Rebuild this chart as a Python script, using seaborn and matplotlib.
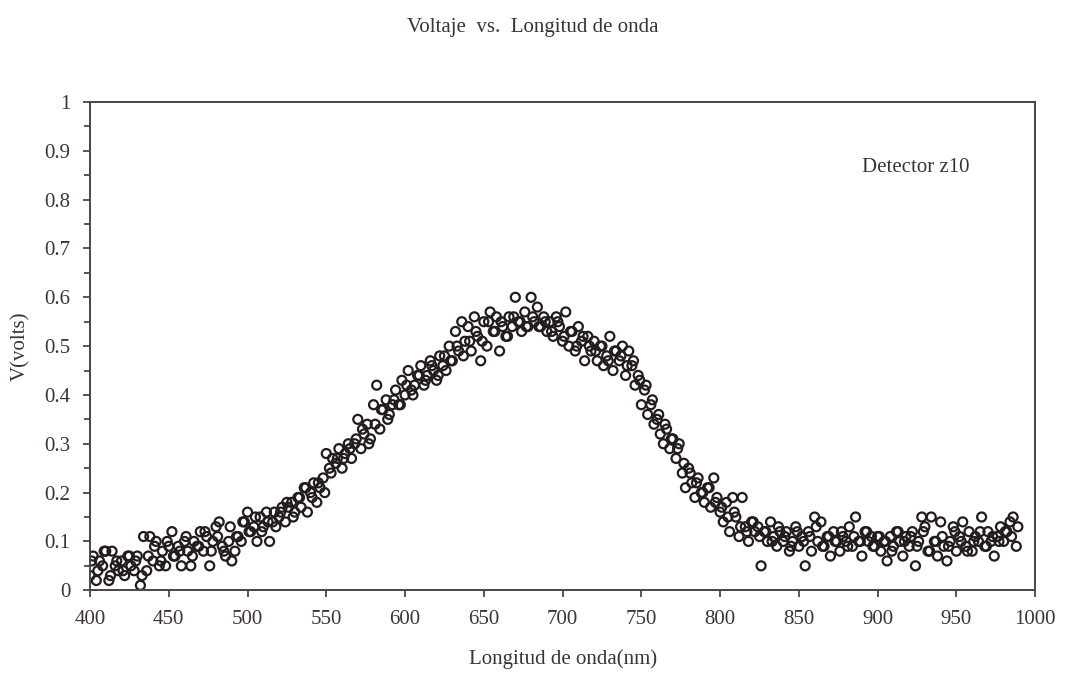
import numpy as np
import pandas as pd
import matplotlib
matplotlib.use("Agg")
import matplotlib.pyplot as plt
import seaborn as sns

# wavelength grid (nm) and measured voltage (V) read from the picture
# run A: every 2 nm starting at 400 nm
wl_start_a, wl_step_a = 400, 2
voltage_a = [
    0.03, 0.07, 0.02, 0.06, 0.05, 0.08, 0.02, 0.08, 0.05, 0.04,
    0.06, 0.03, 0.07, 0.05, 0.04, 0.07, 0.01, 0.11, 0.04, 0.11,
    0.06, 0.10, 0.05, 0.08, 0.05, 0.09, 0.12, 0.07, 0.09, 0.05,
    0.10, 0.08, 0.05, 0.10, 0.09, 0.12, 0.08, 0.11, 0.05, 0.10,
    0.13, 0.14, 0.09, 0.07, 0.10, 0.06, 0.08, 0.11, 0.10, 0.14,
    0.16, 0.12, 0.13, 0.10, 0.15, 0.13, 0.16, 0.10, 0.14, 0.13,
    0.15, 0.17, 0.14, 0.17, 0.18, 0.16, 0.19, 0.17, 0.21, 0.16,
    0.20, 0.22, 0.18, 0.21, 0.23, 0.28, 0.25, 0.27, 0.26, 0.29,
    0.25, 0.28, 0.30, 0.27, 0.30, 0.35, 0.29, 0.32, 0.34, 0.31,
    0.38, 0.42, 0.33, 0.37, 0.39, 0.36, 0.38, 0.41, 0.38, 0.43,
    0.40, 0.45, 0.41, 0.42, 0.44, 0.46, 0.42, 0.44, 0.47, 0.45,
    0.43, 0.48, 0.46, 0.45, 0.50, 0.47, 0.53, 0.49, 0.55, 0.51,
    0.54, 0.49, 0.56, 0.52, 0.47, 0.55, 0.50, 0.57, 0.53, 0.56,
    0.49, 0.54, 0.52, 0.56, 0.54, 0.60, 0.55, 0.53, 0.57, 0.54,
    0.60, 0.55, 0.58, 0.54, 0.56, 0.53, 0.55, 0.52, 0.56, 0.54,
    0.51, 0.57, 0.50, 0.53, 0.49, 0.54, 0.51, 0.47, 0.52, 0.49,
    0.51, 0.47, 0.50, 0.46, 0.48, 0.52, 0.45, 0.49, 0.47, 0.50,
    0.44, 0.49, 0.46, 0.42, 0.44, 0.38, 0.41, 0.36, 0.38, 0.34,
    0.35, 0.32, 0.30, 0.33, 0.29, 0.31, 0.27, 0.30, 0.24, 0.21,
    0.25, 0.22, 0.19, 0.23, 0.20, 0.18, 0.21, 0.17, 0.23, 0.19,
    0.16, 0.14, 0.18, 0.12, 0.19, 0.15, 0.11, 0.19, 0.13, 0.10,
    0.14, 0.12, 0.13, 0.05, 0.12, 0.10, 0.14, 0.11, 0.09, 0.12,
    0.10, 0.12, 0.08, 0.10, 0.13, 0.09, 0.11, 0.05, 0.12, 0.08,
    0.15, 0.10, 0.14, 0.09, 0.11, 0.07, 0.12, 0.10, 0.08, 0.11,
    0.10, 0.13, 0.09, 0.15, 0.10, 0.07, 0.12, 0.10, 0.11, 0.09,
    0.11, 0.08, 0.10, 0.06, 0.11, 0.09, 0.12, 0.10, 0.07, 0.11,
    0.09, 0.12, 0.05, 0.10, 0.15, 0.13, 0.08, 0.15, 0.10, 0.07,
    0.14, 0.09, 0.06, 0.10, 0.13, 0.08, 0.11, 0.14, 0.09, 0.12,
    0.08, 0.11, 0.10, 0.15, 0.09, 0.12, 0.10, 0.07, 0.11, 0.13,
    0.10, 0.12, 0.14, 0.15, 0.09,
]
# run B: every 4 nm starting at 401 nm
wl_start_b, wl_step_b = 401, 4
voltage_b = [
    0.06, 0.04, 0.08, 0.03, 0.06, 0.04, 0.07, 0.06, 0.03, 0.07,
    0.09, 0.06, 0.10, 0.07, 0.08, 0.11, 0.07, 0.09, 0.12, 0.08,
    0.11, 0.08, 0.13, 0.11, 0.14, 0.12, 0.15, 0.12, 0.14, 0.16,
    0.16, 0.18, 0.15, 0.19, 0.21, 0.19, 0.22, 0.20, 0.24, 0.27,
    0.27, 0.29, 0.31, 0.33, 0.30, 0.34, 0.37, 0.35, 0.39, 0.38,
    0.42, 0.40, 0.44, 0.43, 0.46, 0.44, 0.48, 0.47, 0.50, 0.48,
    0.51, 0.53, 0.51, 0.55, 0.53, 0.55, 0.52, 0.56, 0.55, 0.54,
    0.56, 0.54, 0.55, 0.53, 0.55, 0.52, 0.53, 0.50, 0.52, 0.50,
    0.49, 0.50, 0.47, 0.49, 0.48, 0.46, 0.47, 0.43, 0.42, 0.39,
    0.36, 0.34, 0.31, 0.29, 0.26, 0.24, 0.22, 0.20, 0.21, 0.18,
    0.17, 0.15, 0.16, 0.13, 0.12, 0.14, 0.11, 0.12, 0.10, 0.13,
    0.11, 0.09, 0.12, 0.10, 0.11, 0.13, 0.09, 0.11, 0.10, 0.12,
    0.09, 0.11, 0.10, 0.12, 0.09, 0.11, 0.10, 0.08, 0.12, 0.10,
    0.11, 0.09, 0.12, 0.08, 0.10, 0.11, 0.09, 0.12, 0.10, 0.08,
    0.10, 0.12, 0.09, 0.11, 0.10, 0.12, 0.11, 0.13,
]
wavelength_a = [wl_start_a + wl_step_a * i for i in range(len(voltage_a))]
wavelength_b = [wl_start_b + wl_step_b * i for i in range(len(voltage_b))]

x_ticks = [400, 450, 500, 550, 600, 650, 700, 750, 800, 850, 900, 950, 1000]
y_ticks = [0, 0.1, 0.2, 0.3, 0.4, 0.5, 0.6, 0.7, 0.8, 0.9, 1]
y_tick_labels = ["0", "0.1", "0.2", "0.3", "0.4", "0.5", "0.6", "0.7", "0.8", "0.9", "1"]

title = "Voltaje  vs.  Longitud de onda"
x_label = "Longitud de onda(nm)"
y_label = "V(volts)"
annotation = "Detector z10"

df = pd.DataFrame({"wavelength": wavelength_a + wavelength_b,
                   "voltage": voltage_a + voltage_b})

sns.set_style("ticks")
plt.rcParams["font.family"] = ["Liberation Serif", "DejaVu Serif"]
text_color = "#3a3338"
edge_color = "#221b20"

fig = plt.figure(figsize=(10.65, 6.8), dpi=100)
ax = fig.add_axes([0.0845, 0.132, 0.8875, 0.718])

sns.scatterplot(data=df, x="wavelength", y="voltage", ax=ax, marker="o", s=42,
                facecolors="none", edgecolor=edge_color, linewidth=1.6)

ax.set_xlim(400, 1000)
ax.set_ylim(0, 1)
ax.set_xticks(x_ticks)
ax.set_yticks(y_ticks)
ax.set_yticklabels(y_tick_labels)
ax.set_yticks(np.arange(0.05, 1.0, 0.1), minor=True)
ax.tick_params(axis="both", which="major", labelsize=15, colors="#4a4448",
               labelcolor=text_color, length=5, width=1.3, direction="out", pad=9)
ax.tick_params(axis="y", which="minor", length=4, width=1.3, colors="#4a4448")
for side in ["left", "right", "top", "bottom"]:
    ax.spines[side].set_color("#4a4448")
    ax.spines[side].set_linewidth(1.4)

ax.set_xlabel(x_label, fontsize=15, color=text_color, labelpad=15)
ax.set_ylabel(y_label, fontsize=15, color=text_color, labelpad=10)
fig.text(0.5, 0.96, title, ha="center", va="center", fontsize=15, color=text_color)
ax.text(924, 0.865, annotation, ha="center", va="center", fontsize=15, color=text_color)

fig.savefig("out.png", dpi=100)
